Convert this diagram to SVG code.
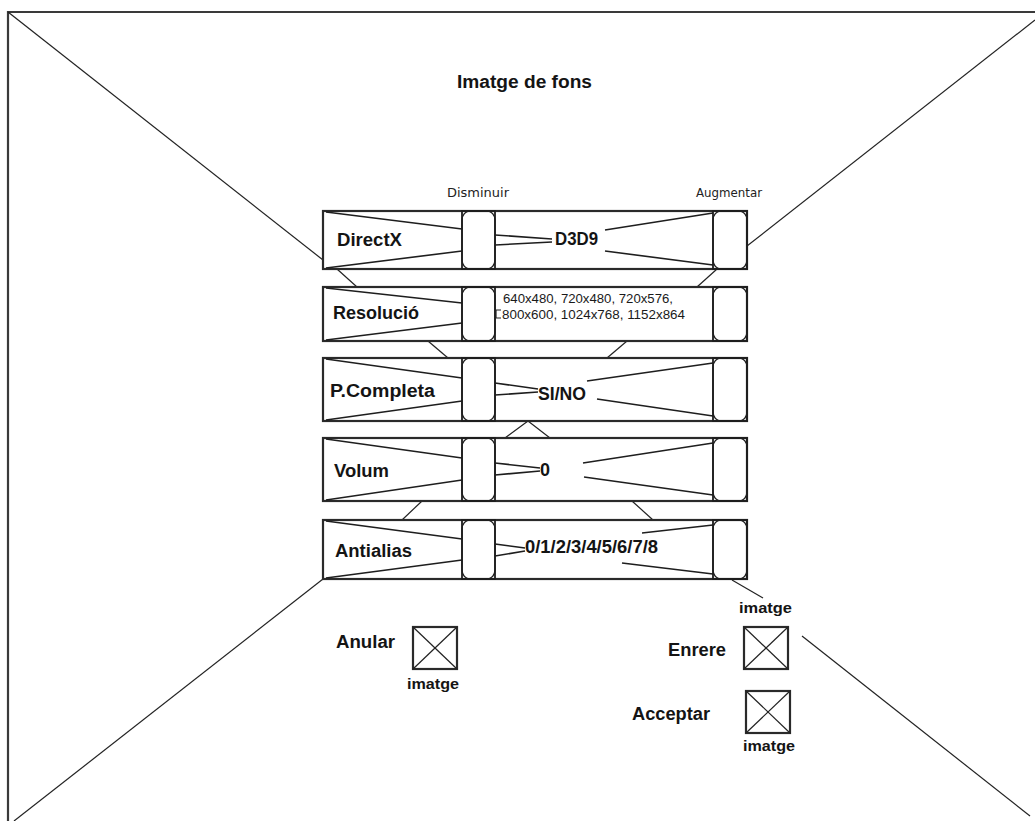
<svg xmlns="http://www.w3.org/2000/svg" width="1035" height="821" viewBox="0 0 1035 821">
  <style>
    .frame { fill: none; stroke: #3a3a3a; stroke-width: 2.2; }
    .box { fill: none; stroke: #2a2a2a; stroke-width: 2.2; }
    .col { fill: none; stroke: #1e1e1e; stroke-width: 1.8; }
    .cap-round { fill: none; stroke: #1e1e1e; stroke-width: 1.4; }
    .ln { fill: none; stroke: #1e1e1e; stroke-width: 1.6; }
    .thin { fill: none; stroke: #222; stroke-width: 1.2; }
    .lbl { font-family: "Liberation Sans", Arial, sans-serif; font-weight: bold; font-size: 18px; fill: #141414; }
    .small { font-family: "DejaVu Sans", "Liberation Sans", sans-serif; font-size: 12px; fill: #222; }
    .res { font-family: "Liberation Sans", Arial, sans-serif; font-size: 13px; fill: #1a1a1a; }
    .cap { font-family: "Liberation Sans", Arial, sans-serif; font-weight: bold; font-size: 15px; fill: #141414; }
  </style>
  <defs>
    <!-- placeholder image: square crossed by its diagonals -->
    <g id="ximg">
      <rect class="box" x="0" y="0" width="44" height="42" />
      <line class="thin" x1="0" y1="0" x2="44" y2="42" />
      <line class="thin" x1="44" y1="0" x2="0" y2="42" />
    </g>
  </defs>

  <rect x="0" y="0" width="1035" height="821" fill="#ffffff" />

  <!-- background image frame -->
  <g id="background">
    <polyline class="frame" points="8,821 8,12 1035,12" />
    <text class="lbl" x="457" y="88" font-size="19" textLength="135" lengthAdjust="spacingAndGlyphs">Imatge de fons</text>
  </g>

  <!-- perspective connectors -->
  <g id="connectors">
    <line class="thin" x1="8" y1="12" x2="323" y2="260" />
    <line class="thin" x1="1035" y1="20" x2="747" y2="246" />
    <line class="thin" x1="323" y1="579" x2="14" y2="821" />
    <line class="thin" x1="802" y1="636" x2="1030" y2="816" />
    <line class="thin" x1="337" y1="269" x2="357" y2="287" />
    <line class="thin" x1="717" y1="269" x2="697" y2="287" />
    <line class="thin" x1="428" y1="341" x2="448" y2="358" />
    <line class="thin" x1="627" y1="341" x2="607" y2="358" />
    <polyline class="thin" points="505,438 528,421 550,438" />
    <line class="thin" x1="422" y1="501" x2="402" y2="520" />
    <line class="thin" x1="632" y1="501" x2="653" y2="520" />
    <line class="thin" x1="732" y1="580" x2="763" y2="598" />
  </g>

  <g id="labels">
    <text class="small" x="447" y="197" textLength="62" lengthAdjust="spacingAndGlyphs">Disminuir</text>
    <text class="small" x="696" y="197" textLength="66" lengthAdjust="spacingAndGlyphs">Augmentar</text>
  </g>

  <!-- DirectX row -->
  <g id="row-directx">
    <rect class="box" x="323" y="211" width="424" height="58" />
    <line class="ln" x1="326" y1="212" x2="462" y2="229" />
    <line class="ln" x1="326" y1="268" x2="462" y2="251" />
    <rect class="col" x="462" y="211" width="33" height="58" />
    <rect class="cap-round" x="462" y="211" width="33" height="58" rx="8" ry="9" />
    <rect class="col" x="713" y="211" width="34" height="58" />
    <rect class="cap-round" x="713" y="211" width="34" height="58" rx="8" ry="9" />
    <line class="ln" x1="495" y1="235" x2="552" y2="239" />
    <line class="ln" x1="495" y1="245" x2="552" y2="242" />
    <line class="ln" x1="605" y1="230" x2="713" y2="213" />
    <line class="ln" x1="605" y1="251" x2="713" y2="265" />
    <text class="lbl" x="337" y="246" textLength="65" lengthAdjust="spacingAndGlyphs">DirectX</text>
    <text class="lbl" x="555" y="245" textLength="43" lengthAdjust="spacingAndGlyphs">D3D9</text>
  </g>

  <!-- Resolution row -->
  <g id="row-resolucio">
    <rect class="box" x="323" y="287" width="424" height="54" />
    <line class="ln" x1="326" y1="288" x2="462" y2="303" />
    <line class="ln" x1="326" y1="340" x2="462" y2="323" />
    <rect class="col" x="462" y="287" width="33" height="54" />
    <rect class="cap-round" x="462" y="287" width="33" height="54" rx="8" ry="9" />
    <rect class="col" x="713" y="287" width="34" height="54" />
    <rect class="cap-round" x="713" y="287" width="34" height="54" rx="8" ry="9" />
    <polyline class="thin" points="501,310 496,310 496,318 501,318" />
    <text class="lbl" x="333" y="319" textLength="86" lengthAdjust="spacingAndGlyphs">Resolució</text>
    <text class="res" x="503" y="303" textLength="170" lengthAdjust="spacingAndGlyphs">640x480, 720x480, 720x576,</text>
    <text class="res" x="502" y="319" textLength="183" lengthAdjust="spacingAndGlyphs">800x600, 1024x768, 1152x864</text>
  </g>

  <!-- Full screen row -->
  <g id="row-pcompleta">
    <rect class="box" x="323" y="358" width="424" height="63" />
    <line class="ln" x1="326" y1="359" x2="462" y2="378" />
    <line class="ln" x1="326" y1="420" x2="462" y2="401" />
    <rect class="col" x="462" y="358" width="33" height="63" />
    <rect class="cap-round" x="462" y="358" width="33" height="63" rx="8" ry="9" />
    <rect class="col" x="713" y="358" width="34" height="63" />
    <rect class="cap-round" x="713" y="358" width="34" height="63" rx="8" ry="9" />
    <line class="ln" x1="495" y1="383" x2="538" y2="389" />
    <line class="ln" x1="495" y1="395" x2="538" y2="392" />
    <line class="ln" x1="587" y1="381" x2="713" y2="363" />
    <line class="ln" x1="597" y1="399" x2="713" y2="416" />
    <text class="lbl" x="330" y="397" textLength="105" lengthAdjust="spacingAndGlyphs">P.Completa</text>
    <text class="lbl" x="538" y="400" textLength="48" lengthAdjust="spacingAndGlyphs">SI/NO</text>
  </g>

  <!-- Volume row -->
  <g id="row-volum">
    <rect class="box" x="323" y="438" width="424" height="63" />
    <line class="ln" x1="326" y1="439" x2="462" y2="458" />
    <line class="ln" x1="326" y1="500" x2="462" y2="480" />
    <rect class="col" x="462" y="438" width="33" height="63" />
    <rect class="cap-round" x="462" y="438" width="33" height="63" rx="8" ry="9" />
    <rect class="col" x="713" y="438" width="34" height="63" />
    <rect class="cap-round" x="713" y="438" width="34" height="63" rx="8" ry="9" />
    <line class="ln" x1="495" y1="463" x2="540" y2="468" />
    <line class="ln" x1="495" y1="475" x2="540" y2="471" />
    <line class="ln" x1="583" y1="463" x2="713" y2="443" />
    <line class="ln" x1="584" y1="477" x2="713" y2="495" />
    <text class="lbl" x="334" y="477" textLength="55" lengthAdjust="spacingAndGlyphs">Volum</text>
    <text class="lbl" x="540" y="476">0</text>
  </g>

  <!-- Antialias row -->
  <g id="row-antialias">
    <rect class="box" x="323" y="520" width="424" height="59" />
    <line class="ln" x1="326" y1="521" x2="462" y2="539" />
    <line class="ln" x1="326" y1="578" x2="462" y2="560" />
    <rect class="col" x="462" y="520" width="33" height="59" />
    <rect class="cap-round" x="462" y="520" width="33" height="59" rx="8" ry="9" />
    <rect class="col" x="713" y="520" width="34" height="59" />
    <rect class="cap-round" x="713" y="520" width="34" height="59" rx="8" ry="9" />
    <line class="ln" x1="495" y1="544" x2="525" y2="548" />
    <line class="ln" x1="495" y1="556" x2="525" y2="551" />
    <line class="ln" x1="642" y1="533" x2="713" y2="525" />
    <line class="ln" x1="622" y1="563" x2="713" y2="574" />
    <text class="lbl" x="335" y="557" textLength="77" lengthAdjust="spacingAndGlyphs">Antialias</text>
    <text class="lbl" x="525" y="553" textLength="133" lengthAdjust="spacingAndGlyphs">0/1/2/3/4/5/6/7/8</text>
  </g>

  <!-- Cancel button -->
  <g id="btn-anular">
    <text class="lbl" x="336" y="648" textLength="59" lengthAdjust="spacingAndGlyphs">Anular</text>
    <use href="#ximg" x="413" y="627" />
    <text class="cap" x="407" y="689" textLength="52" lengthAdjust="spacingAndGlyphs">imatge</text>
  </g>

  <!-- Back button -->
  <g id="btn-enrere">
    <text class="cap" x="739" y="613" textLength="53" lengthAdjust="spacingAndGlyphs">imatge</text>
    <text class="lbl" x="668" y="656" textLength="58" lengthAdjust="spacingAndGlyphs">Enrere</text>
    <use href="#ximg" x="744" y="627" />
  </g>

  <!-- Accept button -->
  <g id="btn-acceptar">
    <text class="lbl" x="632" y="720" textLength="78" lengthAdjust="spacingAndGlyphs">Acceptar</text>
    <use href="#ximg" x="746" y="691" />
    <text class="cap" x="743" y="751" textLength="52" lengthAdjust="spacingAndGlyphs">imatge</text>
  </g>
</svg>
